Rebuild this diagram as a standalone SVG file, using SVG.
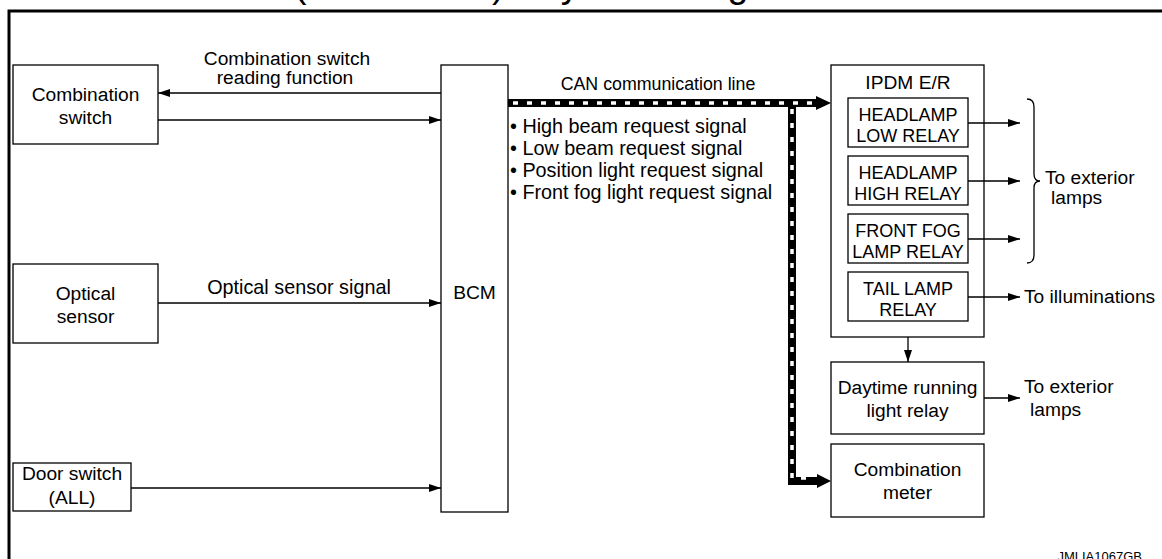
<svg xmlns="http://www.w3.org/2000/svg" width="1162" height="559" viewBox="0 0 1162 559">
  <defs>
    <style>
      text { font-family: "Liberation Sans", Arial, sans-serif; fill: #000; }
      .lbl { font-size: 19.2px; }
      .up { font-size: 18px; }
      .big { font-size: 19.8px; }
      .c { text-anchor: middle; }
      .box { fill: #fff; stroke: #000; stroke-width: 1.3; }
      .ln { fill: none; stroke: #000; stroke-width: 1.3; }
      .frame { fill: none; stroke: #000; stroke-width: 3; }
    </style>
    <marker id="ah" markerWidth="12" markerHeight="8" refX="12" refY="4" orient="auto" markerUnits="userSpaceOnUse">
      <path d="M0,0 L12,4 L0,8 Z" fill="#000"/>
    </marker>
  </defs>
  <rect width="1162" height="559" fill="#fff"/>
  <text x="294" y="-3.5" style="font-size:37.5px">(for Canada) : System Diagram</text>
  <path class="frame" d="M9,559 V11 H1162"/>

  <g id="combination-switch">
    <rect class="box" x="13" y="65" width="145" height="79"/>
    <text class="lbl c" x="85.5" y="101">Combination</text>
    <text class="lbl c" x="85.5" y="124">switch</text>
  </g>
  <g id="optical-sensor">
    <rect class="box" x="13" y="264" width="145" height="79"/>
    <text class="lbl c" x="85.5" y="300">Optical</text>
    <text class="lbl c" x="85.5" y="323">sensor</text>
  </g>
  <g id="door-switch">
    <rect class="box" x="13" y="463" width="118" height="48"/>
    <text class="lbl c" x="72" y="480">Door switch</text>
    <text class="lbl c" x="72" y="504">(ALL)</text>
  </g>
  <g id="bcm">
    <rect class="box" x="441" y="65" width="67" height="447"/>
    <text class="lbl c" x="474.5" y="299">BCM</text>
  </g>
  <g id="ipdm">
    <rect class="box" x="831" y="65" width="153" height="272"/>
    <text class="lbl c" x="908" y="89">IPDM E/R</text>
    <g id="headlamp-low-relay">
      <rect class="box" x="848" y="98" width="120" height="49"/>
      <text class="up c" x="908" y="121">HEADLAMP</text>
      <text class="up c" x="908" y="142">LOW RELAY</text>
    </g>
    <g id="headlamp-high-relay">
      <rect class="box" x="848" y="156" width="120" height="49"/>
      <text class="up c" x="908" y="179">HEADLAMP</text>
      <text class="up c" x="908" y="200">HIGH RELAY</text>
    </g>
    <g id="front-fog-lamp-relay">
      <rect class="box" x="848" y="214" width="120" height="49"/>
      <text class="up c" x="908" y="237">FRONT FOG</text>
      <text class="up c" x="908" y="258">LAMP RELAY</text>
    </g>
    <g id="tail-lamp-relay">
      <rect class="box" x="848" y="272" width="120" height="49"/>
      <text class="up c" x="908" y="295">TAIL LAMP</text>
      <text class="up c" x="908" y="316">RELAY</text>
    </g>
  </g>
  <g id="daytime-running-light-relay">
    <rect class="box" x="831" y="362" width="153" height="72"/>
    <text class="lbl c" x="907.5" y="394">Daytime running</text>
    <text class="lbl c" x="907.5" y="417">light relay</text>
  </g>
  <g id="combination-meter">
    <rect class="box" x="831" y="444" width="153" height="73"/>
    <text class="lbl c" x="907.5" y="476">Combination</text>
    <text class="lbl c" x="907.5" y="499">meter</text>
  </g>

  <g id="connectors">
    <line class="ln" x1="441" y1="93" x2="158" y2="93" marker-end="url(#ah)"/>
    <line class="ln" x1="158" y1="120" x2="441" y2="120" marker-end="url(#ah)"/>
    <line class="ln" x1="158" y1="303" x2="441" y2="303" marker-end="url(#ah)"/>
    <line class="ln" x1="131" y1="488" x2="441" y2="488" marker-end="url(#ah)"/>
    <line class="ln" x1="968" y1="123" x2="1020" y2="123" marker-end="url(#ah)"/>
    <line class="ln" x1="968" y1="181" x2="1020" y2="181" marker-end="url(#ah)"/>
    <line class="ln" x1="968" y1="239" x2="1020" y2="239" marker-end="url(#ah)"/>
    <line class="ln" x1="968" y1="297" x2="1020" y2="297" marker-end="url(#ah)"/>
    <line class="ln" x1="908" y1="337" x2="908" y2="362" marker-end="url(#ah)"/>
    <line class="ln" x1="984" y1="398" x2="1020" y2="398" marker-end="url(#ah)"/>
    <path class="ln" d="M1027,99 Q1034,99 1034,107 V174 Q1034,181 1040,181 Q1034,181 1034,188 V255 Q1034,263 1027,263"/>
    <g id="can-line">
      <path d="M508,103 H817 M792,103 V481 H818" fill="none" stroke="#000" stroke-width="8"/>
      <path d="M513,103 H815 M792,109 V478 H815" fill="none" stroke="#fff" stroke-width="3.5" stroke-dasharray="5 9"/>
      <path d="M816,96 L831,103 L816,110 Z" fill="#000"/>
      <path d="M817,474 L831,481 L817,488 Z" fill="#000"/>
    </g>
  </g>

  <text class="lbl c" x="287" y="65">Combination switch</text>
  <text class="lbl c" x="285" y="84">reading function</text>
  <text class="lbl c" x="299" y="294" style="font-size:19.8px">Optical sensor signal</text>
  <text class="c" x="658" y="90" style="font-size:17.8px">CAN communication line</text>
  <text class="big" x="510" y="133">• High beam request signal</text>
  <text class="big" x="510" y="155">• Low beam request signal</text>
  <text class="big" x="510" y="177">• Position light request signal</text>
  <text class="big" x="510" y="199">• Front fog light request signal</text>
  <text class="lbl" x="1045" y="184">To exterior</text>
  <text class="lbl" x="1051" y="204">lamps</text>
  <text class="lbl" x="1024" y="303">To illuminations</text>
  <text class="lbl" x="1024" y="393">To exterior</text>
  <text class="lbl" x="1030" y="416">lamps</text>
  <text x="1142" y="561" style="font-size:13px;text-anchor:end">JMLIA1067GB</text>
</svg>
